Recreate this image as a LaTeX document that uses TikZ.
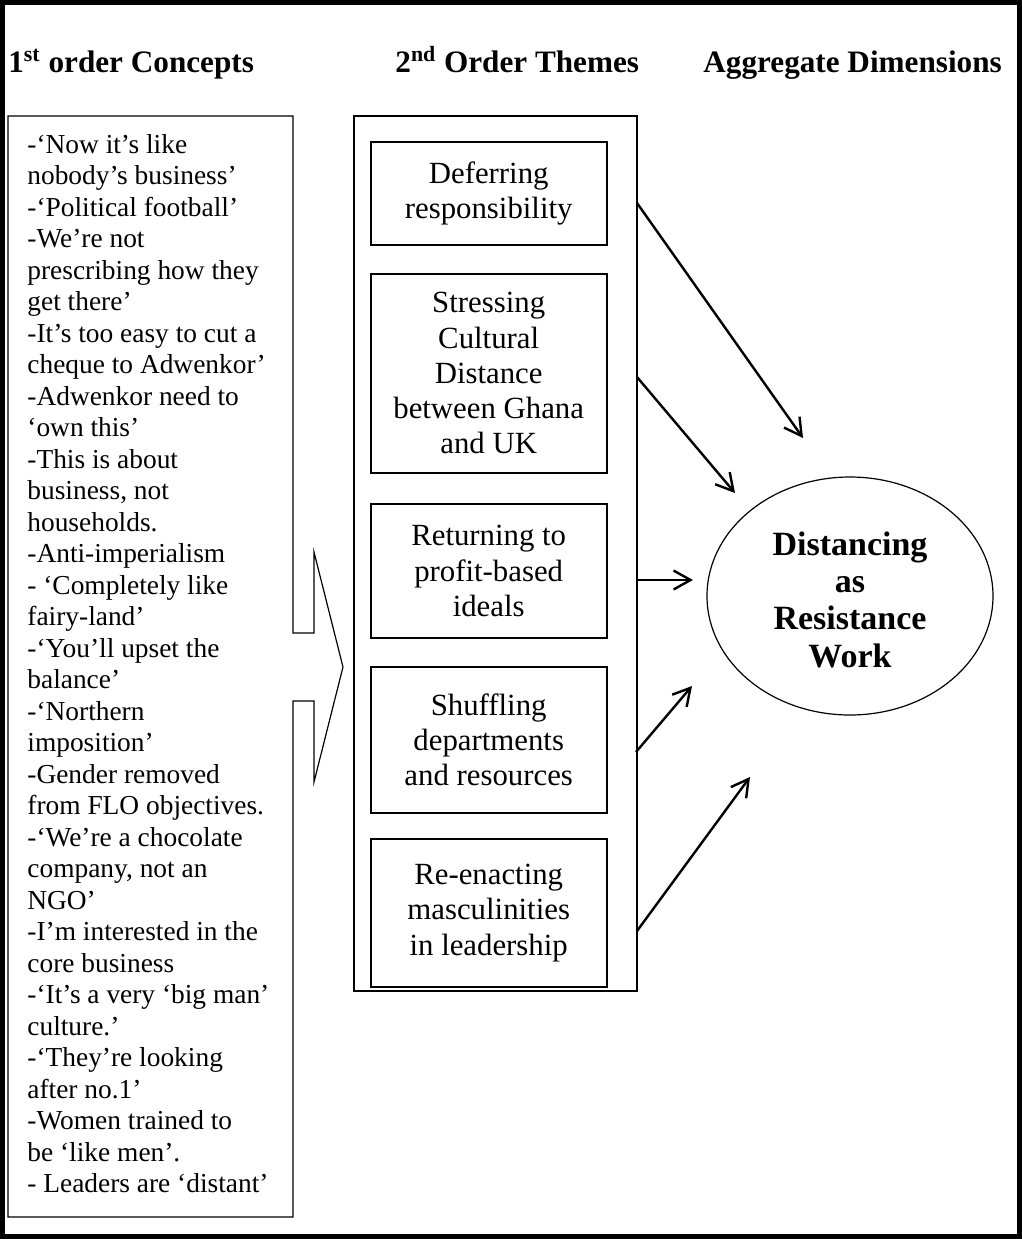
\documentclass[tikz,border=0pt]{standalone}
\usepackage{fontspec}
\setmainfont{Liberation Serif}
\usetikzlibrary{arrows.meta,shapes.geometric}
\begin{document}
\begin{tikzpicture}[x=0.5pt,y=-0.5pt,
  heading/.style={font=\fontsize{15.6}{18}\selectfont\bfseries, inner sep=0pt, anchor=base west},
  conceptlist/.style={font=\fontsize{13.7}{15.75}\selectfont, align=left, inner sep=0pt, anchor=north west},
  themebox/.style={draw, line width=0.9pt, minimum width=118pt, align=center, inner sep=0pt,
                   font=\fontsize{15.4}{17.6}\selectfont},
  panel/.style={draw, line width=0.6pt},
  arr/.style={line width=1.2pt, -{Straight Barb[length=8.5pt,width=9.5pt]}},
]
\useasboundingbox (0,0) rectangle (1022,1239);

% outer frame
\draw[line width=2.6pt] (2.6,2.6) rectangle (1019.4,1236.4);

% column headings
\node[heading] (h1) at (8,72) {1\textsuperscript{st} order Concepts};
\node[heading] (h2) at (395,72) {2\textsuperscript{nd} Order Themes};
\node[heading] (h3) at (703,72) {Aggregate Dimensions};

% first-order concepts: box with an arrow-shaped notch on its right side
\draw[panel] (8,116) -- (293,116) -- (293,633) -- (314,633) -- (314,552)
  -- (343,667) -- (314,782) -- (314,701) -- (293,701) -- (293,1217)
  -- (8,1217) -- cycle;
\node[conceptlist] (concepts) at (27,134) {%
-‘Now it’s like\\
nobody’s business’\\
-‘Political football’\\
-We’re not\\
prescribing how they\\
get there’\\
-It’s too easy to cut a\\
cheque to Adwenkor’\\
-Adwenkor need to\\
‘own this’\\
-This is about\\
business, not\\
households.\\
-Anti-imperialism\\
- ‘Completely like\\
fairy-land’\\
-‘You’ll upset the\\
balance’\\
-‘Northern\\
imposition’\\
-Gender removed\\
from FLO objectives.\\
-‘We’re a chocolate\\
company, not an\\
NGO’\\
-I’m interested in the\\
core business\\
-‘It’s a very ‘big man’\\
culture.’\\
-‘They’re looking\\
after no.1’\\
-Women trained to\\
be ‘like men’.\\
- Leaders are ‘distant’};

% second-order themes
\node[panel, inner sep=0pt, minimum width=141.5pt, minimum height=437.5pt] (themes) at (495.5,553.5) {};
\node[themebox, minimum height=51.65pt] (t1) at (488.7,193.3) {Deferring\\responsibility};
\node[themebox, minimum height=99.35pt] (t2) at (488.7,373.3) {Stressing\\Cultural\\Distance\\between Ghana\\and UK};
\node[themebox, minimum height=67pt]    (t3) at (488.7,571)   {Returning to\\profit-based\\ideals};
\node[themebox, minimum height=73.35pt] (t4) at (488.7,740)   {Shuffling\\departments\\and resources};
\node[themebox, minimum height=73.7pt]  (t5) at (488.7,913)   {Re-enacting\\masculinities\\in leadership};

% aggregate dimension
\node[ellipse, draw, line width=0.6pt, minimum width=143pt, minimum height=119pt, inner sep=0pt,
      align=center, font=\fontsize{17}{18.6}\selectfont\bfseries] (dim) at (850,596)
      {\rule{0pt}{15.5pt}Distancing\\as\\Resistance\\Work};

% connectors from the themes column towards the aggregate dimension
\coordinate (s1) at (637,203);  \coordinate (e1) at (803,438);
\coordinate (s2) at (637,377);  \coordinate (e2) at (735,493);
\coordinate (s3) at (637,580);  \coordinate (e3) at (693,580);
\coordinate (s4) at (636,752);  \coordinate (e4) at (692,686);
\coordinate (s5) at (637,931);  \coordinate (e5) at (750,777);
\draw[arr] (s1) -- (e1);
\draw[arr] (s2) -- (e2);
\draw[arr] (s3) -- (e3);
\draw[arr] (s4) -- (e4);
\draw[arr] (s5) -- (e5);
\end{tikzpicture}
\end{document}
